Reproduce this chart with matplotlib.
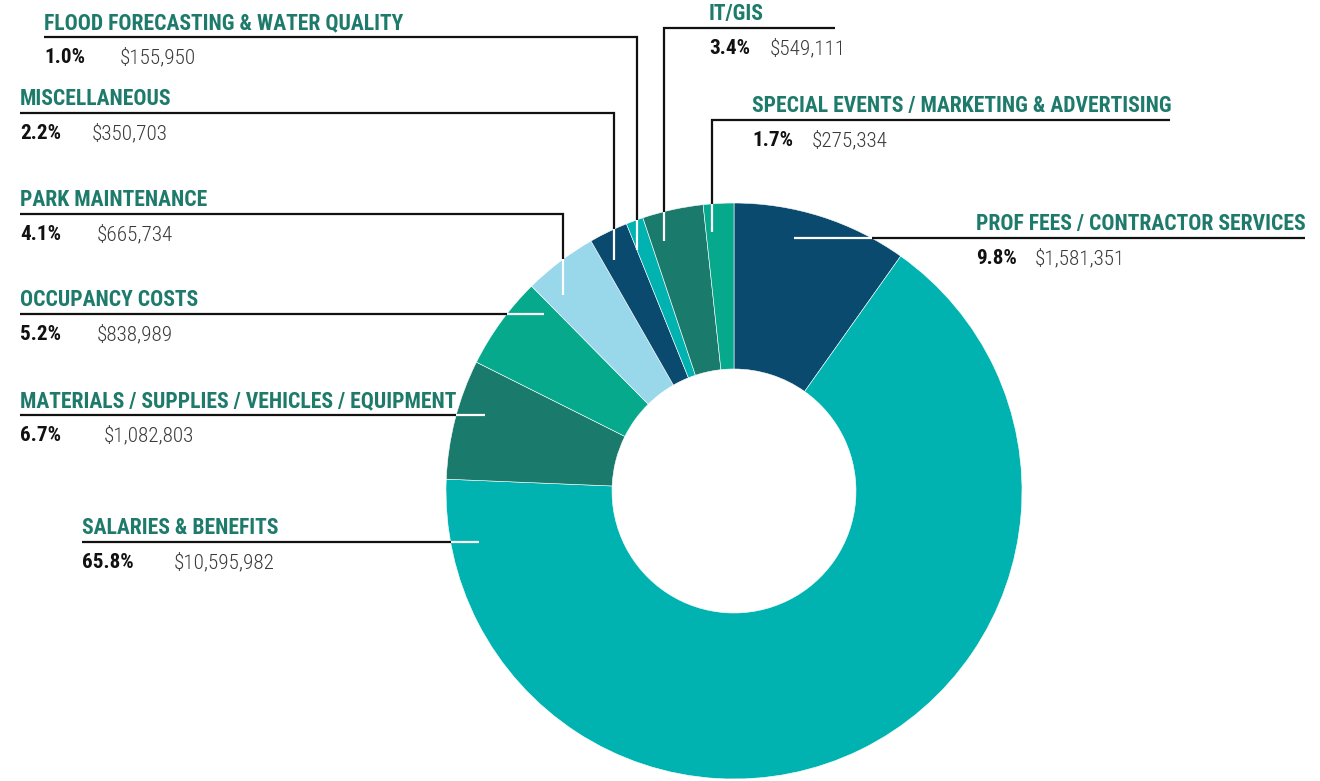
import matplotlib
matplotlib.use("Agg")
import matplotlib.pyplot as plt
from matplotlib import font_manager
import numpy as np

# ---------------- data ----------------
categories = [
    "PROF FEES / CONTRACTOR SERVICES",
    "SALARIES & BENEFITS",
    "MATERIALS / SUPPLIES / VEHICLES / EQUIPMENT",
    "OCCUPANCY COSTS",
    "PARK MAINTENANCE",
    "MISCELLANEOUS",
    "FLOOD FORECASTING & WATER QUALITY",
    "IT/GIS",
    "SPECIAL EVENTS / MARKETING & ADVERTISING",
]
amounts = [1581351, 10595982, 1082803, 838989, 665734, 350703, 155950, 549111, 275334]
pct_labels = ["9.8%", "65.8%", "6.7%", "5.2%", "4.1%", "2.2%", "1.0%", "3.4%", "1.7%"]
amount_labels = ["$1,581,351", "$10,595,982", "$1,082,803", "$838,989", "$665,734",
                 "$350,703", "$155,950", "$549,111", "$275,334"]

# ---------------- style ----------------
NAVY = "#0b4a6f"
TEAL = "#00b2b0"
DKGREEN = "#1a7a6b"
GREEN = "#07a98c"
LTBLUE = "#98d8ea"
colors = [NAVY, TEAL, DKGREEN, GREEN, LTBLUE, NAVY, TEAL, DKGREEN, GREEN]
TITLE_COLOR = "#1e7b6b"


def pick_font(cands):
    for c in cands:
        try:
            font_manager.findfont(font_manager.FontProperties(family=c), fallback_to_default=False)
            return c
        except Exception:
            pass
    return "DejaVu Sans"


FONT = pick_font(["Roboto Condensed", "Liberation Sans Narrow", "Open Sans Condensed", "Liberation Sans"])

W, H = 1320, 781
fig = plt.figure(figsize=(W / 100, H / 100), dpi=100)
ax = fig.add_axes([0, 0, 1, 1])


def Y(y):
    return H - y


# donut geometry (pixels)
CX, CY = 734, 491
R_OUT, R_IN = 288, 122
R_END = 260

ax.pie(amounts, colors=colors, startangle=90, counterclock=False,
       center=(CX, Y(CY)), radius=R_OUT,
       wedgeprops=dict(width=R_OUT - R_IN, edgecolor="white", linewidth=0.4),
       frame=True)
ax.set_xlim(0, W)
ax.set_ylim(0, H)
ax.set_aspect("equal")
ax.axis("off")

# label layout: (title_x, underline_y, far_end_x, kind, knee_x or side, dollar_x)
layout = {
    "PROF FEES / CONTRACTOR SERVICES": (976, 238, 1305, "h", +1, 1035),
    "SALARIES & BENEFITS": (82, 542, 82, "h", -1, 174),
    "MATERIALS / SUPPLIES / VEHICLES / EQUIPMENT": (20, 415, 20, "h", -1, 104),
    "OCCUPANCY COSTS": (20, 314, 20, "h", -1, 97),
    "PARK MAINTENANCE": (20, 214, 20, "v", 563, 97),
    "MISCELLANEOUS": (20, 113, 20, "v", 614, 92),
    "FLOOD FORECASTING & WATER QUALITY": (44, 37, 44, "v", 637, 120),
    "IT/GIS": (709, 28, 835, "v", 664, 770),
    "SPECIAL EVENTS / MARKETING & ADVERTISING": (752, 120, 1170, "v", 712, 812),
}

LW = 1.6
TITLE_FS = 15.6
VAL_FS = 15.2

for cat, pct, amt in zip(categories, pct_labels, amount_labels):
    tx, uy, far, kind, k, dx = layout[cat]
    if kind == "h":
        dy = CY - uy
        x_edge = CX + k * np.sqrt(R_OUT ** 2 - dy ** 2)
        x_end = CX + k * np.sqrt(R_END ** 2 - dy ** 2)
        ax.plot([far, x_edge], [Y(uy), Y(uy)], color="#111111", lw=LW, zorder=1,
                solid_capstyle="butt")
        ax.plot([x_edge, x_end], [Y(uy), Y(uy)], color="white", lw=LW, zorder=5,
                solid_capstyle="butt")
    else:
        ddx = k - CX
        y_edge = CY - np.sqrt(R_OUT ** 2 - ddx ** 2)
        y_end = CY - np.sqrt(R_END ** 2 - ddx ** 2)
        ax.plot([far, k, k], [Y(uy), Y(uy), Y(y_edge)], color="#111111", lw=LW, zorder=1,
                solid_capstyle="butt", solid_joinstyle="miter")
        ax.plot([k, k], [Y(y_edge), Y(y_end)], color="white", lw=LW, zorder=5,
                solid_capstyle="butt")
    ax.text(tx, Y(uy - 8), cat, fontsize=TITLE_FS, fontweight="bold", color=TITLE_COLOR,
            family=FONT, ha="left", va="baseline")
    ax.text(tx, Y(uy + 26), pct, fontsize=VAL_FS, fontweight="bold", color="#111111",
            family=FONT, ha="left", va="baseline")
    ax.text(dx, Y(uy + 26), amt, fontsize=VAL_FS, fontweight="light", color="#3a3a3a",
            family=FONT, ha="left", va="baseline")

fig.savefig("out.png", dpi=100, facecolor="white")
